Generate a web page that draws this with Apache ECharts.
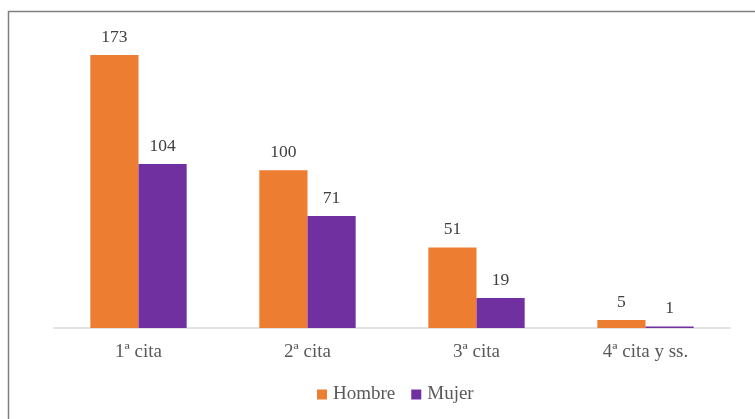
<!DOCTYPE html>
<html>
<head>
<meta charset="utf-8">
<script src="https://cdn.jsdelivr.net/npm/echarts@6/dist/echarts.min.js"></script>
<style>html,body{margin:0;padding:0;background:#fff}#c{width:755px;height:419px}</style>
</head>
<body>
<div id="c"></div>
<script>
const categories = ['1ª cita', '2ª cita', '3ª cita', '4ª cita y ss.'];
const hombre = [173, 100, 51, 5];
const mujer = [104, 71, 19, 1];
const seriesNames = ['Hombre', 'Mujer'];

const chart = echarts.init(document.getElementById('c'), null, {renderer: 'canvas'});
const font = '"Liberation Serif", "Times New Roman", serif';
chart.setOption({
  animation: false,
  backgroundColor: '#fff',
  textStyle: {fontFamily: font},
  graphic: [{
    type: 'rect',
    shape: {x: 8.5, y: 11.5, width: 800, height: 500},
    style: {fill: 'none', stroke: '#808080', lineWidth: 1.5},
    silent: true
  }],
  grid: {left: 54, right: 25, top: 44, height: 284},
  legend: {
    data: seriesNames,
    left: 312, top: 380,
    icon: 'rect', itemWidth: 10, itemHeight: 10, itemGap: 16,
    textStyle: {fontFamily: font, fontSize: 19, color: '#595959', padding: [0, 0, 0, 1]}
  },
  xAxis: {
    type: 'category', data: categories,
    axisLine: {lineStyle: {color: '#d9d9d9', width: 1.5}},
    axisTick: {show: false},
    axisLabel: {fontFamily: font, fontSize: 19, color: '#595959', margin: 15}
  },
  yAxis: {
    type: 'value', min: 0, max: 180, show: false,
    splitLine: {show: false}
  },
  series: [
    {name: seriesNames[0], type: 'bar', data: hombre, barGap: '0%', barCategoryGap: '43%',
     itemStyle: {color: '#ED7D31'},
     label: {show: true, position: 'top', distance: 9, fontFamily: font, fontSize: 17.5, color: '#404040'}},
    {name: seriesNames[1], type: 'bar', data: mujer, barGap: '0%', barCategoryGap: '43%',
     itemStyle: {color: '#7030A0'},
     label: {show: true, position: 'top', distance: 9, fontFamily: font, fontSize: 17.5, color: '#404040'}}
  ]
});
</script>
</body>
</html>
